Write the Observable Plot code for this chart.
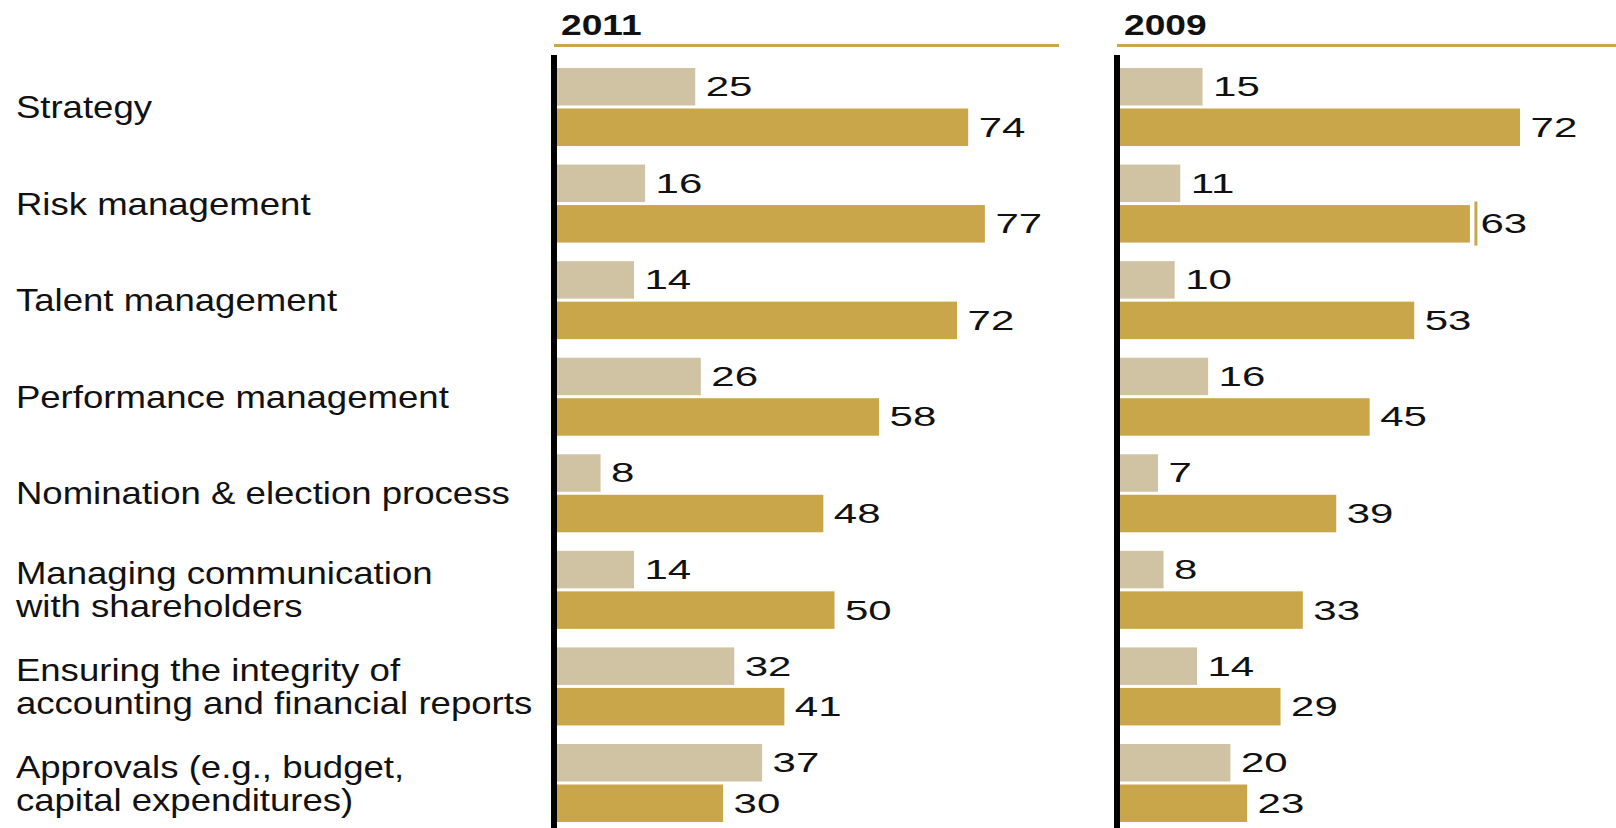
<!DOCTYPE html>
<html>
<head>
<meta charset="utf-8">
<script src="https://cdn.jsdelivr.net/npm/d3@7"></script>
<script src="https://cdn.jsdelivr.net/npm/@observablehq/plot@0.6"></script>
<style>
  html, body { margin: 0; padding: 0; background: #fff; overflow: hidden; }
</style>
</head>
<body>
<div id="chart"></div>
<script>
// ---- data ----
const years = ["2011", "2009"];
const categories = [
  "Strategy",
  "Risk management",
  "Talent management",
  "Performance management",
  "Nomination & election process",
  "Managing communication\nwith shareholders",
  "Ensuring the integrity of\naccounting and financial reports",
  "Approvals (e.g., budget,\ncapital expenditures)"
];
const light2011 = [25, 16, 14, 26, 8, 14, 32, 37];
const gold2011  = [74, 77, 72, 58, 48, 50, 41, 30];
const light2009 = [15, 11, 10, 16, 7, 8, 14, 20];
const gold2009  = [72, 63, 53, 45, 39, 33, 29, 23];
// small vertical marker next to one bar
const markerYear = ["2009"];
const markerCategory = ["Risk management"];
const markerValue = [63];

// ---- build tables ----
const bySeries = {
  "2011": {light: light2011, gold: gold2011},
  "2009": {light: light2009, gold: gold2009}
};
const lightRows = [], goldRows = [];
years.forEach(yr => categories.forEach((c, i) => {
  lightRows.push({year: yr, category: c, value: bySeries[yr].light[i]});
  goldRows.push({year: yr, category: c, value: bySeries[yr].gold[i]});
}));
const markers = markerYear.map((yr, i) => ({year: yr, category: markerCategory[i], value: markerValue[i]}));

const LIGHT = "#cfc3a3";
const GOLD = "#caa64b";
const INK = "#111";
const pxPerUnit = 5.57;
const facetWidth = 497;

const chart = Plot.plot({
  width: 1616,
  height: 828,
  marginLeft: 556,
  marginRight: 0,
  marginTop: 55,
  marginBottom: 0,
  style: {fontFamily: "'Liberation Sans', Arial, sans-serif", background: "#fff", color: INK},
  fx: {domain: years, paddingInner: 66 / 563, paddingOuter: 0, round: false, axis: null},
  x: {domain: [0, facetWidth / pxPerUnit], axis: null},
  y: {domain: categories, paddingInner: 0.1923, paddingOuter: 0.0984, align: 0.684, round: false, axis: null},
  marks: [
    Plot.barX(lightRows, {fx: "year", y: "category", x: "value", fill: LIGHT, insetBottom: 40.5}),
    Plot.barX(goldRows, {fx: "year", y: "category", x: "value", fill: GOLD, insetTop: 40.5}),
    Plot.ruleX(markers, {fx: "year", x: "value", y1: "category", y2: "category", stroke: GOLD, strokeWidth: 3, dx: 5.5, insetTop: 37, insetBottom: -3}),
    Plot.ruleX(years, {fx: d => d, x: () => 0, stroke: "#000", strokeWidth: 6, dx: -2.5}),
    Plot.ruleY(years, {fx: d => d, y: () => categories[0], dy: -62, stroke: GOLD, strokeWidth: 3, insetLeft: -2, insetRight: -6}),
    Plot.text(years, {fx: d => d, text: d => d, frameAnchor: "top-left", textAnchor: "start", lineAnchor: "bottom", dx: 4.5, dy: -21, fontSize: 30, fontWeight: "bold", fill: INK}),
    Plot.text(categories, {fx: () => "2011", y: d => d, text: d => d, frameAnchor: "left", textAnchor: "start", dx: -540.6, fontSize: 31, lineHeight: 33 / 31, fill: INK}),
    Plot.text(lightRows, {fx: "year", y: "category", x: "value", text: "value", textAnchor: "start", dx: 10, dy: -20.25, fontSize: 28, fill: INK}),
    Plot.text(goldRows, {fx: "year", y: "category", x: "value", text: "value", textAnchor: "start", dx: 10, dy: 20.25, fontSize: 28, fill: INK})
  ]
});

document.getElementById("chart").appendChild(chart);

// widen glyphs horizontally to match the reference's wide lettering
const svg = chart.tagName.toLowerCase() === "svg" ? chart : chart.querySelector("svg");
svg.querySelectorAll("text").forEach(el => {
  const s = el.textContent.trim();
  const k = years.includes(s) ? 1.24 : /^\d+$/.test(s) ? 1.5 : 1.18;
  const t = el.getAttribute("transform") || "";
  const x = el.getAttribute("x");
  if (x != null) el.removeAttribute("x");
  el.setAttribute("transform", `${t} translate(${x ?? 0},0) scale(${k},1)`);
});
</script>
</body>
</html>
